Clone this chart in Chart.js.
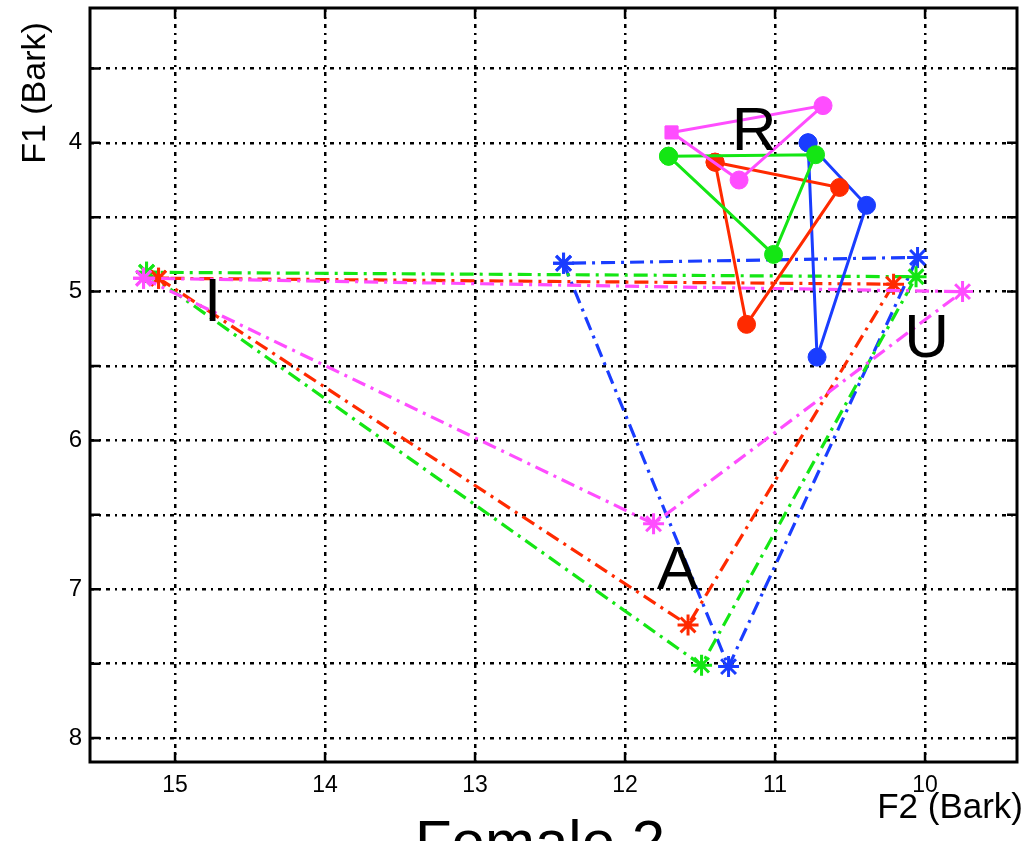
<!DOCTYPE html>
<html>
<head>
<meta charset="utf-8">
<script src="https://cdn.jsdelivr.net/npm/chart.js@4/dist/chart.umd.min.js"></script>
<style>
  html, body { margin: 0; padding: 0; background: #fff; }
  canvas { display: block; }
</style>
</head>
<body>
<canvas id="grafico" width="1026" height="841"></canvas>
<script>
// ejes (Bark)
const xTicks = [10, 11, 12, 13, 14, 15];
const yTicks = [3.5, 4, 4.5, 5, 5.5, 6, 6.5, 7, 7.5, 8];
const xRange = [9.387, 15.567];
const yRange = [3.094, 8.161];

// trayectorias R (linea continua, circulos)
const rAzulF2 = [10.78, 10.39, 10.72];
const rAzulF1 = [4.00, 4.42, 5.44];
const rRojoF2 = [11.40, 10.57, 11.19];
const rRojoF1 = [4.13, 4.30, 5.22];
const rVerdeF2 = [11.71, 10.73, 11.01];
const rVerdeF1 = [4.09, 4.08, 4.75];
const rMagentaF2 = [11.69, 10.68, 11.24];
const rMagentaF1 = [3.93, 3.75, 4.25];

// triangulos vocalicos I, A, U (linea punto-raya, asteriscos)
const vAzulF2 = [12.41, 11.31, 10.05];
const vAzulF1 = [4.81, 7.52, 4.77];
const vRojoF2 = [15.11, 11.58, 10.21];
const vRojoF1 = [4.91, 7.24, 4.95];
const vVerdeF2 = [15.19, 11.49, 10.06];
const vVerdeF1 = [4.87, 7.51, 4.90];
const vMagentaF2 = [15.21, 11.81, 9.75];
const vMagentaF1 = [4.91, 6.56, 5.00];

// etiquetas de vocales
const etiquetas = ['R', 'I', 'U', 'A'];
const etiquetasF2 = [11.14, 14.75, 9.99, 11.65];
const etiquetasF1 = [4.05, 5.20, 5.44, 7.00];

const AZUL = '#1a3dff';
const ROJO = '#ff2a00';
const VERDE = '#14e614';
const MAGENTA = '#ff4dff';
const FUENTE = '"Liberation Sans", Arial, sans-serif';

function puntos(f2, f1, cerrar) {
  const p = f2.map((x, i) => ({ x: x, y: f1[i] }));
  if (cerrar) p.push(p[0]);
  return p;
}

function serieR(f2, f1, color, estilo) {
  return {
    data: puntos(f2, f1, true),
    showLine: true,
    borderColor: color,
    backgroundColor: color,
    borderWidth: 3,
    pointStyle: estilo || 'circle',
    pointRadius: 9,
    pointBorderWidth: 1,
    pointBorderColor: color,
    pointBackgroundColor: color
  };
}

function serieV(f2, f1, color) {
  return {
    data: puntos(f2, f1, true),
    showLine: true,
    borderColor: color,
    backgroundColor: color,
    borderWidth: 3.2,
    borderDash: [14, 6, 3, 6],
    pointStyle: 'star',
    pointRadius: 10.5,
    pointBorderWidth: 3,
    pointBorderColor: color
  };
}

const marco = {
  id: 'marco',
  afterDatasetsDraw(chart) {
    const ctx = chart.ctx;
    const a = chart.chartArea;
    const sx = chart.scales.x;
    const sy = chart.scales.y;
    ctx.save();
    ctx.strokeStyle = '#000';
    ctx.lineWidth = 2.5;
    ctx.setLineDash([]);
    // marcas hacia dentro
    ctx.beginPath();
    xTicks.forEach(v => {
      const px = sx.getPixelForValue(v);
      ctx.moveTo(px, a.bottom); ctx.lineTo(px, a.bottom - 10);
      ctx.moveTo(px, a.top); ctx.lineTo(px, a.top + 10);
    });
    yTicks.forEach(v => {
      const py = sy.getPixelForValue(v);
      ctx.moveTo(a.left, py); ctx.lineTo(a.left + 10, py);
      ctx.moveTo(a.right, py); ctx.lineTo(a.right - 10, py);
    });
    ctx.stroke();
    ctx.lineWidth = 3;
    ctx.strokeRect(a.left, a.top, a.right - a.left, a.bottom - a.top);

    // letras de vocales
    ctx.fillStyle = '#000';
    ctx.font = '62px ' + FUENTE;
    ctx.textAlign = 'center';
    ctx.textBaseline = 'alphabetic';
    etiquetas.forEach((t, i) => {
      ctx.fillText(t, sx.getPixelForValue(etiquetasF2[i]), sy.getPixelForValue(etiquetasF1[i]));
    });

    // titulos de ejes
    ctx.font = '35px ' + FUENTE;
    ctx.textAlign = 'right';
    ctx.fillText('F2 (Bark)', 1023, 818);
    ctx.save();
    ctx.translate(45, 93);
    ctx.rotate(-Math.PI / 2);
    ctx.textAlign = 'center';
    ctx.font = '34px ' + FUENTE;
    ctx.fillText('F1 (Bark)', 0, 0);
    ctx.restore();

    ctx.font = '60px ' + FUENTE;
    ctx.textAlign = 'center';
    ctx.fillText('Female 2', 540, 862);
    ctx.restore();
  }
};

const ctx = document.getElementById('grafico').getContext('2d');
const chart = new Chart(ctx, {
  type: 'scatter',
  data: {
    datasets: [
      serieR(rMagentaF2, rMagentaF1, MAGENTA, (c) => (c.dataIndex % 3 === 0 ? 'rect' : 'circle')),
      serieR(rVerdeF2, rVerdeF1, VERDE),
      serieR(rRojoF2, rRojoF1, ROJO),
      serieR(rAzulF2, rAzulF1, AZUL),
      serieV(vMagentaF2, vMagentaF1, MAGENTA),
      serieV(vRojoF2, vRojoF1, ROJO),
      serieV(vVerdeF2, vVerdeF1, VERDE),
      serieV(vAzulF2, vAzulF1, AZUL)
    ]
  },
  options: {
    responsive: false,
    animation: false,
    layout: { autoPadding: false, padding: { left: 0, right: 9, top: 8, bottom: 0 } },
    plugins: {
      legend: { display: false },
      tooltip: { enabled: false }
    },
    scales: {
      x: {
        type: 'linear',
        reverse: true,
        min: xRange[0],
        max: xRange[1],
        afterBuildTicks: (s) => { s.ticks = xTicks.map(v => ({ value: v })); },
        afterFit: (s) => { s.height = 79; s.paddingLeft = 0; s.paddingRight = 0; },
        grid: { color: '#000', lineWidth: 2.5, drawTicks: false },
        border: { display: false, dash: [4, 5, 2, 5] },
        ticks: {
          color: '#000',
          padding: 10,
          font: { family: FUENTE, size: 23 },
          callback: (v) => v
        }
      },
      y: {
        type: 'linear',
        reverse: true,
        min: yRange[0],
        max: yRange[1],
        afterBuildTicks: (s) => { s.ticks = yTicks.map(v => ({ value: v })); },
        afterFit: (s) => { s.width = 90; s.paddingTop = 0; s.paddingBottom = 0; },
        grid: { color: '#000', lineWidth: 2.5, drawTicks: false },
        border: { display: false, dash: [4, 5, 2, 5] },
        ticks: {
          color: '#000',
          padding: 8,
          font: { family: FUENTE, size: 24 },
          callback: (v) => (Number.isInteger(v) ? v : '')
        }
      }
    }
  },
  plugins: [marco]
});
</script>
</body>
</html>
